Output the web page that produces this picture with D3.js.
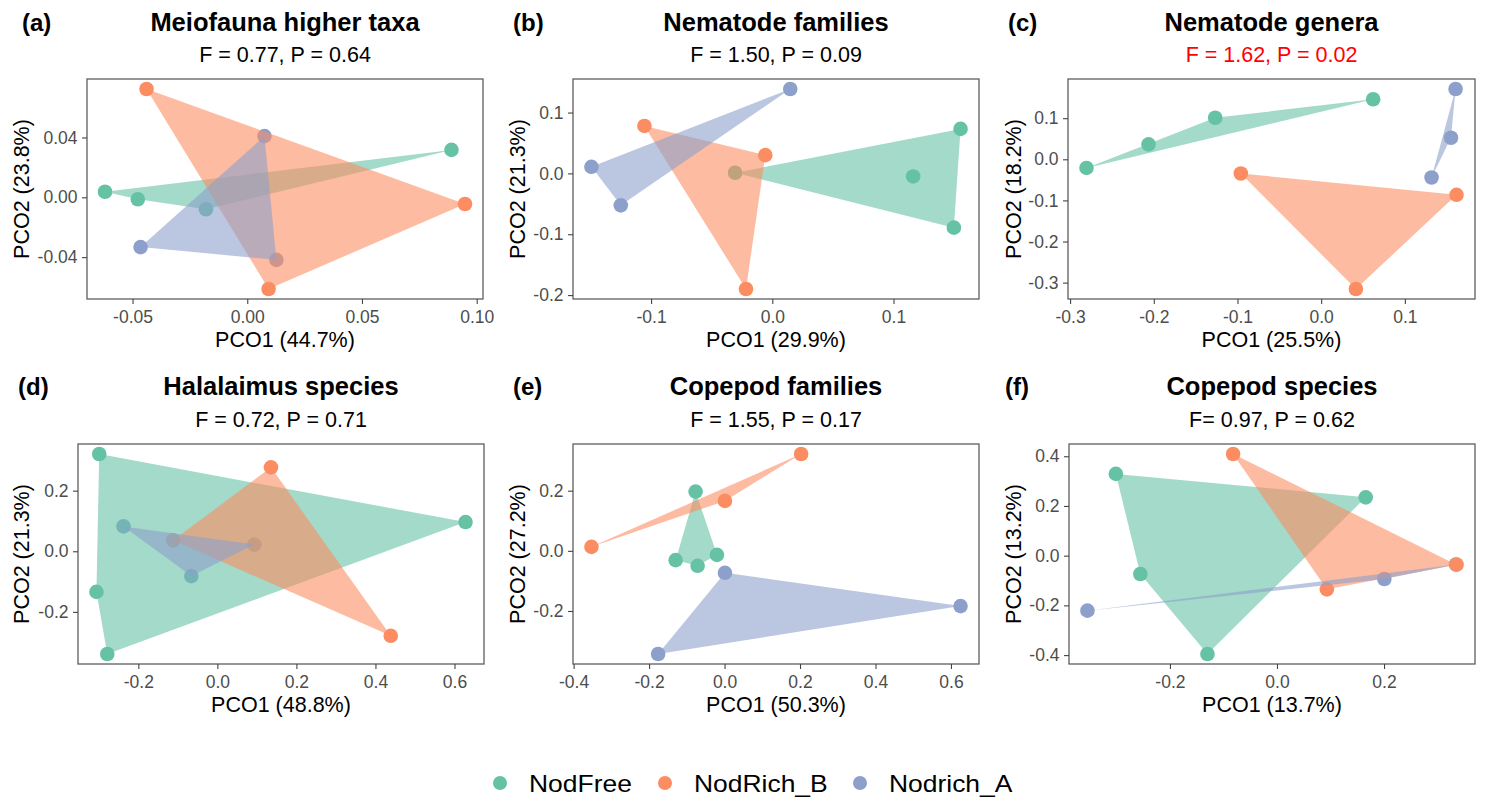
<!DOCTYPE html>
<html><head><meta charset="utf-8">
<script src="https://cdn.jsdelivr.net/npm/d3@7"></script>
<style>
body{margin:0;background:#fff}
svg{display:block}
text{font-family:"Liberation Sans",Arial,Helvetica,sans-serif}
</style>
</head><body>
<svg id="chart" width="1486" height="800"></svg>
<script>
// ---------------- DATA ----------------
const groups = ["NodFree", "NodRich_B", "Nodrich_A"];
const groupColors = ["#66C2A5", "#FC8D62", "#8DA0CB"];

const panelTags = ["(a)", "(b)", "(c)", "(d)", "(e)", "(f)"];
const panelTitles = ["Meiofauna higher taxa", "Nematode families", "Nematode genera",
                     "Halalaimus species", "Copepod families", "Copepod species"];
const panelStats = ["F = 0.77, P = 0.64", "F = 1.50, P = 0.09", "F = 1.62, P = 0.02",
                    "F = 0.72, P = 0.71", "F = 1.55, P = 0.17", "F= 0.97, P = 0.62"];
const statSignificant = [false, false, true, false, false, false];
const xTitles = ["PCO1 (44.7%)", "PCO1 (29.9%)", "PCO1 (25.5%)", "PCO1 (48.8%)", "PCO1 (50.3%)", "PCO1 (13.7%)"];
const yTitles = ["PCO2 (23.8%)", "PCO2 (21.3%)", "PCO2 (18.2%)", "PCO2 (21.3%)", "PCO2 (27.2%)", "PCO2 (13.2%)"];

const xTickValues = [
  [-0.05, 0, 0.05, 0.10],
  [-0.1, 0, 0.1],
  [-0.3, -0.2, -0.1, 0, 0.1],
  [-0.2, 0, 0.2, 0.4, 0.6],
  [-0.4, -0.2, 0, 0.2, 0.4, 0.6],
  [-0.2, 0, 0.2]
];
const xTickLabels = [
  ["-0.05", "0.00", "0.05", "0.10"],
  ["-0.1", "0.0", "0.1"],
  ["-0.3", "-0.2", "-0.1", "0.0", "0.1"],
  ["-0.2", "0.0", "0.2", "0.4", "0.6"],
  ["-0.4", "-0.2", "0.0", "0.2", "0.4", "0.6"],
  ["-0.2", "0.0", "0.2"]
];
const yTickValues = [
  [-0.04, 0, 0.04],
  [-0.2, -0.1, 0, 0.1],
  [-0.3, -0.2, -0.1, 0, 0.1],
  [-0.2, 0, 0.2],
  [-0.2, 0, 0.2],
  [-0.4, -0.2, 0, 0.2, 0.4]
];
const yTickLabels = [
  ["-0.04", "0.00", "0.04"],
  ["-0.2", "-0.1", "0.0", "0.1"],
  ["-0.3", "-0.2", "-0.1", "0.0", "0.1"],
  ["-0.2", "0.0", "0.2"],
  ["-0.2", "0.0", "0.2"],
  ["-0.4", "-0.2", "0.0", "0.2", "0.4"]
];

// PCO scores: [group, PCO1, PCO2]
const meiofaunaPoints = [
  ["NodFree", -0.062, 0.0037], ["NodFree", -0.0477, -0.0013], ["NodFree", -0.018, -0.008], ["NodFree", 0.089, 0.0317],
  ["Nodrich_A", 0.0075, 0.0409], ["Nodrich_A", -0.0465, -0.0333], ["Nodrich_A", 0.0127, -0.0418],
  ["NodRich_B", -0.0439, 0.0724], ["NodRich_B", 0.0949, -0.0045], ["NodRich_B", 0.0093, -0.0613]
];
const nemFamilyPoints = [
  ["NodFree", -0.0307, 0.001], ["NodFree", 0.1162, -0.005], ["NodFree", 0.1553, 0.0731], ["NodFree", 0.1498, -0.0892],
  ["Nodrich_A", 0.0148, 0.1387], ["Nodrich_A", -0.1492, 0.0108], ["Nodrich_A", -0.125, -0.0525],
  ["NodRich_B", -0.1055, 0.078], ["NodRich_B", -0.0058, 0.030], ["NodRich_B", -0.0217, -0.190]
];
const nemGenusPoints = [
  ["NodFree", -0.2804, -0.021], ["NodFree", -0.2063, 0.0363], ["NodFree", -0.1266, 0.101], ["NodFree", 0.0621, 0.146],
  ["Nodrich_A", 0.1606, 0.171], ["Nodrich_A", 0.1551, 0.0525], ["Nodrich_A", 0.1319, -0.0443],
  ["NodRich_B", -0.096, -0.0346], ["NodRich_B", 0.1617, -0.0864], ["NodRich_B", 0.0415, -0.3155]
];
const halalaimusPoints = [
  ["NodFree", -0.299, 0.321], ["NodFree", 0.628, 0.0964], ["NodFree", -0.306, -0.134], ["NodFree", -0.2786, -0.339],
  ["Nodrich_A", -0.2376, 0.082], ["Nodrich_A", -0.066, -0.082], ["Nodrich_A", 0.0934, 0.022],
  ["NodRich_B", 0.1356, 0.277], ["NodRich_B", 0.4387, -0.279], ["NodRich_B", -0.112, 0.036]
];
const copFamilyPoints = [
  ["NodFree", -0.0767, 0.197], ["NodFree", -0.1296, -0.031], ["NodFree", -0.0714, -0.0498], ["NodFree", -0.0201, -0.0133],
  ["Nodrich_A", 0.001, -0.073], ["Nodrich_A", 0.6254, -0.1837], ["Nodrich_A", -0.176, -0.343],
  ["NodRich_B", 0.203, 0.322], ["NodRich_B", 0.001, 0.166], ["NodRich_B", -0.3527, 0.0133]
];
const copSpeciesPoints = [
  ["NodFree", -0.301, 0.329], ["NodFree", 0.1658, 0.2346], ["NodFree", -0.2553, -0.0737], ["NodFree", -0.1299, -0.3956],
  ["Nodrich_A", -0.3541, -0.2213], ["Nodrich_A", 0.2006, -0.0938], ["Nodrich_A", 0.3345, -0.0355],
  ["NodRich_B", -0.082, 0.409], ["NodRich_B", 0.3355, -0.0362], ["NodRich_B", 0.0932, -0.1356]
];
const panelPoints = [meiofaunaPoints, nemFamilyPoints, nemGenusPoints, halalaimusPoints, copFamilyPoints, copSpeciesPoints];

// ---------------- LAYOUT ----------------
const panelBoxes = [
  [87, 79, 483, 299], [573, 79, 979, 299], [1068, 79, 1475, 299],
  [78, 444, 484, 664], [573, 444, 979, 664], [1069, 444, 1475, 664]
];
const tagX = [22, 513, 1008, 18, 513, 1005];
const yTitleX = [29, 525, 1021, 29, 525, 1021];
const titleY = [31, 31, 31, 395, 395, 395];
const subtitleY = [61.5, 61.5, 61.5, 427, 427, 427];
const legendDotX = [500, 665, 860];
const legendY = 783;

const FONT = '"Liberation Sans", Arial, Helvetica, sans-serif';
const svg = d3.select("#chart");
const color = d3.scaleOrdinal().domain(groups).range(groupColors);

panelBoxes.forEach((box, i) => {
  const [x0, y0, x1, y1] = box;
  const pts = panelPoints[i];
  const xe = d3.extent(pts, d => d[1]), ye = d3.extent(pts, d => d[2]);
  const xp = (xe[1] - xe[0]) * 0.05, yp = (ye[1] - ye[0]) * 0.05;
  const x = d3.scaleLinear().domain([xe[0] - xp, xe[1] + xp]).range([x0, x1]);
  const y = d3.scaleLinear().domain([ye[0] - yp, ye[1] + yp]).range([y1, y0]);

  const g = svg.append("g");
  const clipId = "clip" + i;
  svg.append("clipPath").attr("id", clipId).append("rect")
    .attr("x", x0).attr("y", y0).attr("width", x1 - x0).attr("height", y1 - y0);

  const plot = g.append("g").attr("clip-path", `url(#${clipId})`);
  // points first
  plot.selectAll("circle").data(pts).join("circle")
    .attr("cx", d => x(d[1])).attr("cy", d => y(d[2])).attr("r", 7.3)
    .attr("fill", d => color(d[0]));
  // hulls over points
  groups.forEach(gr => {
    const gp = pts.filter(d => d[0] === gr).map(d => [x(d[1]), y(d[2])]);
    if (gp.length < 3) return;
    const hull = d3.polygonHull(gp);
    plot.append("path").attr("d", "M" + hull.join("L") + "Z")
      .attr("fill", color(gr)).attr("fill-opacity", 0.6).attr("stroke", "none");
  });

  // border
  g.append("rect").attr("x", x0).attr("y", y0).attr("width", x1 - x0).attr("height", y1 - y0)
    .attr("fill", "none").attr("stroke", "#5e5e5e").attr("stroke-width", 1.3);

  // axes
  const xa = g.append("g").attr("transform", `translate(0,${y1})`)
    .call(d3.axisBottom(x).tickValues(xTickValues[i]).tickFormat((d, j) => xTickLabels[i][j]).tickSize(5).tickPadding(7));
  const ya = g.append("g").attr("transform", `translate(${x0},0)`)
    .call(d3.axisLeft(y).tickValues(yTickValues[i]).tickFormat((d, j) => yTickLabels[i][j]).tickSize(5).tickPadding(4.5));
  [xa, ya].forEach(a => {
    a.select(".domain").remove();
    a.selectAll(".tick line").attr("stroke", "#444").attr("stroke-width", 1.1);
    a.selectAll(".tick text").attr("fill", "#4d4d4d").style("font-size", "17.5px").style("font-family", FONT);
  });

  const cx = (x0 + x1) / 2, cy = (y0 + y1) / 2;
  // axis titles
  g.append("text").attr("x", cx).attr("y", y1 + 47.5).attr("text-anchor", "middle")
    .style("font-size", "21.5px").attr("fill", "#000").text(xTitles[i]);
  g.append("text").attr("transform", `translate(${yTitleX[i]},${cy}) rotate(-90)`)
    .attr("text-anchor", "middle").style("font-size", "21.5px").attr("fill", "#000").text(yTitles[i]);

  // titles
  g.append("text").attr("x", cx).attr("y", titleY[i]).attr("text-anchor", "middle")
    .style("font-size", "25.5px").style("font-weight", "bold").attr("fill", "#000").text(panelTitles[i]);
  g.append("text").attr("x", cx).attr("y", subtitleY[i]).attr("text-anchor", "middle")
    .style("font-size", "21.5px").attr("fill", statSignificant[i] ? "#ff0000" : "#000").text(panelStats[i]);
  g.append("text").attr("x", tagX[i]).attr("y", titleY[i])
    .style("font-size", "24px").style("font-weight", "bold").attr("fill", "#000").text(panelTags[i]);
});

// legend
const lg = svg.append("g");
groups.forEach((gr, k) => {
  lg.append("circle").attr("cx", legendDotX[k]).attr("cy", legendY).attr("r", 7).attr("fill", color(gr));
  lg.append("text").attr("transform", `translate(${legendDotX[k] + 29},${legendY + 8.7}) scale(1.15,1)`)
    .style("font-size", "23px").attr("fill", "#000").text(gr);
});
</script>
</body></html>
